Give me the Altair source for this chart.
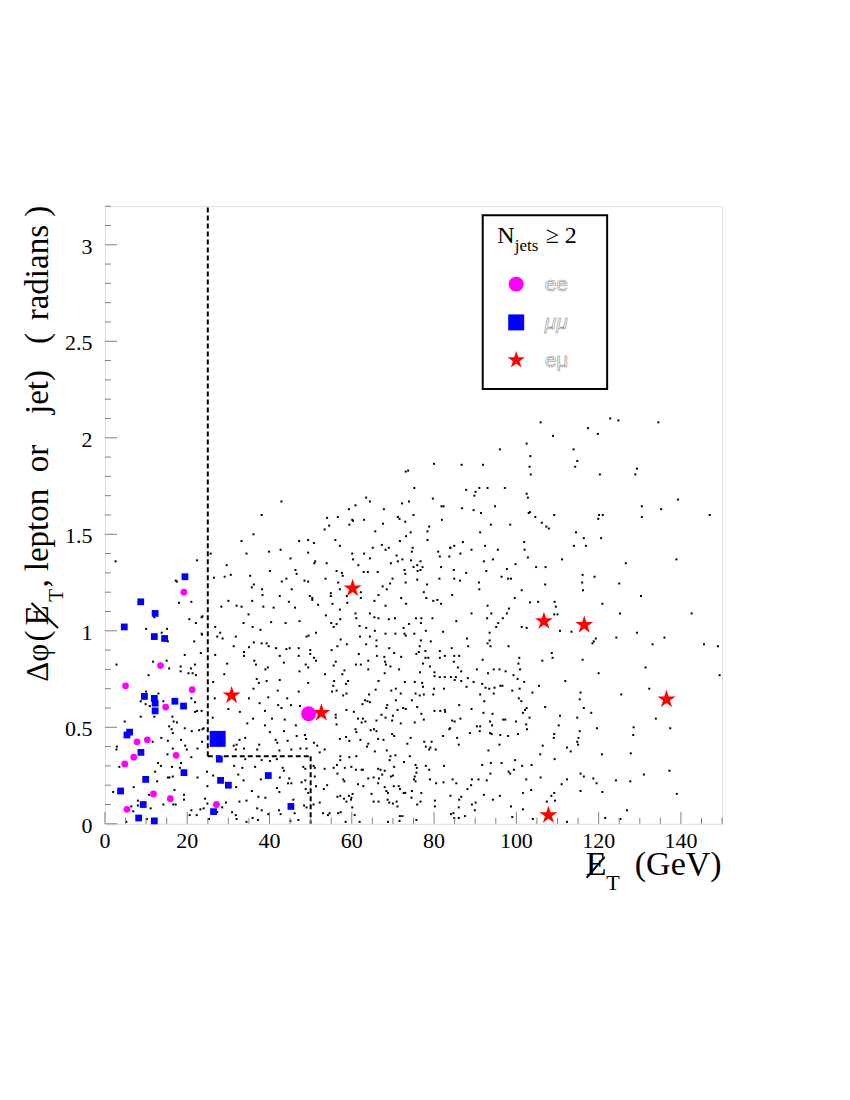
import altair as alt
import pandas as pd

# ---------------- data ----------------
# background (simulated) events, (MET, dphi) pairs, by picture region
BG_A = [(105.9,2.08),(122.8,2.10),(124.8,2.09),(134.5,2.08),(117.4,2.05),(119.8,2.02),(108.9,2.01),(102.5,1.97),(96.0,1.94),(113.9,1.94),(103.4,1.905),(114.8,1.88),(86.7,1.86),(91.9,1.86),(103.2,1.85),(114.3,1.85),(129.3,1.84),(103.5,1.81),(120.3,1.81),(128.9,1.81),(87.8,1.73),(91.0,1.74),(93.0,1.74),(97.2,1.74),(90.1,1.72),(89.8,1.70),(102.5,1.71),(102.8,1.69),(139.3,1.68),(130.5,1.645),(135.2,1.63),(86.8,1.635),(89.6,1.625),(91.4,1.61),(94.8,1.645),(103.0,1.61),(103.3,1.615),(104.6,1.59),(109.2,1.60),(120.1,1.60),(121.0,1.60),(119.9,1.58),(130.5,1.59),(147.0,1.60),(93.8,1.55),(98.5,1.55),(106.2,1.56),(107.3,1.54),(107.9,1.53),(91.2,1.51),(114.5,1.51),(116.4,1.48),(120.6,1.48),(87.0,1.46),(84.9,1.44),(84.0,1.43),(92.4,1.44),(101.9,1.46),(114.0,1.44),(116.9,1.44),(89.1,1.42),(95.5,1.42),(102.0,1.42),(86.4,1.40),(92.1,1.36),(94.3,1.37),(102.8,1.38),(111.1,1.37),(126.6,1.35),(138.9,1.37),(99.8,1.345),(97.7,1.32),(104.8,1.33),(107.1,1.33),(84.8,1.315),(87.8,1.30),(92.7,1.31),(116.1,1.29),(119.0,1.28),(96.4,1.28),(98.0,1.27),(98.7,1.27),(84.9,1.27),(86.3,1.26),(90.9,1.25),(116.0,1.25),(125.0,1.245),(107.0,1.24),(91.0,1.215),(101.3,1.21),(116.2,1.21),(84.4,1.185),(99.6,1.17),(130.3,1.18)]
BG_B = [(103.3,1.147),(105.3,1.15),(109.3,1.15),(109.6,1.125),(120.9,1.14),(93.0,1.13),(98.2,1.115),(89.1,1.09),(93.9,1.09),(97.7,1.09),(109.2,1.085),(110.0,1.085),(125.2,1.09),(142.6,1.09),(92.9,1.065),(96.7,1.065),(85.4,1.05),(95.6,1.04),(95.1,1.02),(101.3,1.02),(102.5,1.015),(110.6,1.00),(113.4,0.995),(129.3,0.99),(93.5,0.99),(88.0,0.96),(93.5,0.95),(93.0,0.935),(93.7,0.92),(98.1,0.92),(119.3,0.96),(118.8,0.945),(118.5,0.935),(124.3,0.965),(136.0,0.965),(133.1,0.93),(145.6,0.93),(149.0,0.92),(88.3,0.92),(84.3,0.91),(84.9,0.87),(86.1,0.87),(108.6,0.885),(108.8,0.86),(106.3,0.845),(100.7,0.86),(100.5,0.83),(91.8,0.85),(116.1,0.85),(84.8,0.84),(85.8,0.81),(90.4,0.80),(94.5,0.80),(95.9,0.80),(97.4,0.79),(99.3,0.77),(100.9,0.80),(86.6,0.79),(93.1,0.78),(131.4,0.81),(149.4,0.77),(120.0,0.78),(84.1,0.76),(85.3,0.76),(85.0,0.745),(86.6,0.74),(88.2,0.755),(89.6,0.735),(100.3,0.75),(101.9,0.735),(111.9,0.74),(87.9,0.71),(91.7,0.725),(92.5,0.705),(93.4,0.70),(94.7,0.705),(96.1,0.715),(96.6,0.715),(99.0,0.69),(100.8,0.70),(105.5,0.715),(103.9,0.68),(94.5,0.675),(91.2,0.67),(115.6,0.68),(115.4,0.645),(125.5,0.67),(132.3,0.70),(100.6,0.65),(101.2,0.635),(92.2,0.635),(86.1,0.615),(107.0,0.605),(89.1,0.595),(102.5,0.60),(102.1,0.59),(101.6,0.575),(116.4,0.60),(92.0,0.575),(94.2,0.57),(118.2,0.575),(110.6,0.56),(114.8,0.55),(103.2,0.55),(84.4,0.535),(85.0,0.53),(86.4,0.545),(93.6,0.53),(96.8,0.54),(97.3,0.54),(99.9,0.53),(133.9,0.545),(102.4,0.515),(102.6,0.49),(94.1,0.51),(90.4,0.505),(91.2,0.505),(110.3,0.51),(115.4,0.48),(119.6,0.495),(128.5,0.50),(128.4,0.46),(137.4,0.495),(83.9,0.495),(88.7,0.47),(91.1,0.48),(93.6,0.47),(94.0,0.465),(96.1,0.46),(98.0,0.455),(100.4,0.465),(109.2,0.465),(109.1,0.445),(115.1,0.445),(114.8,0.425),(115.0,0.41),(85.6,0.445),(86.0,0.41),(95.9,0.41),(106.4,0.405),(112.3,0.395),(113.2,0.375),(93.2,0.38),(105.8,0.36),(120.8,0.36),(127.8,0.365),(109.3,0.335),(99.7,0.33),(93.8,0.315),(96.4,0.315),(91.7,0.305),(103.7,0.305),(101.4,0.30),(99.4,0.28),(98.1,0.27),(98.5,0.26),(93.7,0.26),(137.2,0.275),(115.6,0.26),(116.4,0.245),(131.0,0.255),(84.5,0.23),(85.4,0.21),(89.2,0.23),(90.8,0.23),(92.8,0.225),(102.4,0.23),(105.9,0.24),(112.3,0.23),(118.7,0.235),(119.5,0.21),(124.2,0.225),(127.7,0.22),(89.0,0.20),(88.1,0.18),(111.0,0.205),(101.6,0.16),(103.6,0.175),(115.6,0.17),(120.9,0.165),(139.0,0.155),(84.0,0.145),(86.1,0.125),(86.6,0.14),(92.1,0.15),(94.3,0.125),(96.0,0.145),(108.5,0.145),(109.2,0.16),(109.4,0.12),(107.4,0.115),(89.2,0.10),(90.1,0.11),(89.9,0.07),(98.7,0.09),(101.6,0.075),(86.0,0.085),(84.7,0.055),(84.1,0.05),(84.9,0.03),(87.5,0.04),(86.0,0.03),(99.0,0.035),(104.0,0.025),(112.3,0.01),(121.6,0.03),(125.3,0.025),(126.9,0.07)]
BG_C = [(80.0,1.865),(73.1,1.825),(73.7,1.83),(75.2,1.74),(42.9,1.67),(63.5,1.69),(64.4,1.67),(79.7,1.685),(73.9,1.67),(72.2,1.66),(81.8,1.645),(82.3,1.645),(60.9,1.65),(59.3,1.63),(67.8,1.63),(38.1,1.60),(54.0,1.585),(56.6,1.59),(60.1,1.575),(60.3,1.57),(63.0,1.575),(71.2,1.59),(71.6,1.58),(75.0,1.60),(73.0,1.565),(81.9,1.575),(67.6,1.555),(59.4,1.55),(54.5,1.545),(53.4,1.525),(78.8,1.54),(78.4,1.515),(74.3,1.51),(65.7,1.515),(73.2,1.49),(36.1,1.50),(33.2,1.465),(47.2,1.465),(49.4,1.47),(50.8,1.455),(56.0,1.47),(57.1,1.44),(71.7,1.465),(78.4,1.47),(67.3,1.445),(69.0,1.43),(68.2,1.42),(65.1,1.43),(74.8,1.43),(74.6,1.41),(83.9,1.43),(42.7,1.42),(39.9,1.41),(34.4,1.40),(49.4,1.405),(60.1,1.40),(63.0,1.40),(81.0,1.41),(81.4,1.385),(70.9,1.39),(72.3,1.37),(71.2,1.36),(83.7,1.385),(45.1,1.375),(64.4,1.375),(60.3,1.37),(74.4,1.365),(29.6,1.34),(51.1,1.36),(50.9,1.35),(53.9,1.35),(76.7,1.36),(75.9,1.34),(69.5,1.35),(61.6,1.34),(75.0,1.33),(77.2,1.33),(81.7,1.33),(40.1,1.31),(46.3,1.315),(46.6,1.295),(30.6,1.29),(35.3,1.285),(56.3,1.31),(57.6,1.30),(57.8,1.285),(62.9,1.305),(63.9,1.305),(66.3,1.305),(72.8,1.315),(73.0,1.295),(76.0,1.31),(76.7,1.315),(26.5,1.275),(29.1,1.28),(44.1,1.27),(43.0,1.255),(48.5,1.26),(49.4,1.255),(53.6,1.27),(56.7,1.25),(69.9,1.27),(69.3,1.245),(67.5,1.23),(68.5,1.215),(73.1,1.25),(75.9,1.265),(78.3,1.24),(81.3,1.27),(36.2,1.24),(35.7,1.225),(38.2,1.215),(45.4,1.215),(57.1,1.215),(38.3,1.185),(42.5,1.18),(49.8,1.18),(50.4,1.17),(54.9,1.195),(54.9,1.18),(58.8,1.18),(62.2,1.20),(62.2,1.17),(66.5,1.185),(72.0,1.17),(77.5,1.20),(78.1,1.17),(25.7,1.40)]
BG_D = [(2.6,1.36),(22.4,1.365),(17.2,1.26),(17.5,1.255),(18.0,1.145),(21.0,1.15),(12.0,1.07),(20.5,1.06),(22.1,1.04),(23.5,1.07),(10.0,1.01),(15.1,1.01),(13.8,0.99),(23.6,0.98),(21.7,0.945),(15.3,0.945),(19.4,0.875),(23.3,0.885),(2.8,0.825),(11.7,0.84),(15.0,0.845),(10.6,0.77),(18.4,0.815),(18.4,0.79),(15.6,0.805),(20.9,0.805),(21.9,0.825),(20.3,0.78),(21.3,0.78),(22.1,0.77),(10.0,0.685),(13.0,0.675),(8.7,0.635),(9.9,0.62),(10.9,0.61),(14.2,0.635),(21.0,0.65),(21.9,0.63),(22.4,0.585),(21.9,0.58),(8.7,0.555),(12.0,0.555),(16.4,0.555),(16.7,0.53),(17.5,0.525),(4.8,0.53),(15.6,0.505),(16.2,0.49),(16.5,0.47),(19.4,0.495),(21.1,0.48),(22.9,0.485),(24.0,0.495),(13.7,0.445),(15.3,0.43),(18.5,0.435),(19.5,0.405),(19.9,0.385),(22.5,0.39),(23.6,0.425),(2.9,0.40),(2.8,0.385),(16.5,0.39),(11.6,0.425),(15.2,0.36),(21.0,0.345),(3.5,0.295),(12.9,0.315),(13.6,0.30),(16.3,0.295),(18.5,0.315),(18.2,0.29),(12.2,0.27),(15.3,0.24),(15.7,0.24),(16.5,0.245),(12.7,0.22),(22.5,0.24),(7.0,0.19),(2.0,0.165),(16.9,0.175),(10.7,0.15),(19.2,0.15),(19.2,0.125),(8.0,0.12),(8.0,0.095),(14.2,0.10),(16.6,0.10),(17.2,0.10),(6.4,0.09),(11.1,0.08),(21.0,0.07),(23.2,0.075),(24.0,0.08),(6.9,0.065),(20.6,0.045),(22.3,0.045),(10.2,0.025),(5.2,0.01)]
BG_E = [(30.0,1.155),(35.8,1.155),(44.7,1.15),(50.4,1.16),(51.8,1.135),(28.3,1.125),(32.0,1.13),(33.2,1.125),(38.5,1.125),(41.0,1.12),(46.2,1.12),(53.7,1.08),(23.7,1.075),(34.9,1.085),(33.7,1.04),(35.9,1.02),(37.8,1.005),(40.4,1.045),(43.9,1.04),(47.3,1.05),(26.8,1.02),(28.0,0.99),(27.3,0.97),(28.6,0.96),(31.8,0.97),(23.5,0.985),(49.0,0.97),(49.5,0.975),(51.3,0.99),(36.2,0.94),(38.1,0.935),(39.3,0.935),(39.8,0.92),(31.3,0.92),(35.0,0.915),(41.6,0.91),(44.1,0.905),(44.9,0.91),(47.1,0.91),(49.9,0.90),(33.8,0.89),(33.8,0.87),(26.8,0.875),(47.1,0.87),(42.5,0.87),(49.9,0.88),(50.8,0.86),(51.3,0.845),(36.3,0.845),(36.7,0.825),(29.7,0.83),(43.5,0.835),(48.8,0.825),(49.4,0.81),(39.6,0.81),(39.0,0.80),(47.3,0.79),(29.0,0.775),(53.5,0.775),(26.3,0.735),(36.9,0.75),(37.4,0.73),(39.3,0.74),(42.5,0.745),(49.4,0.73),(47.1,0.685),(42.0,0.69),(36.1,0.70),(26.7,0.65),(35.0,0.65),(37.6,0.625),(39.7,0.655),(42.1,0.615),(42.9,0.60),(44.3,0.65),(45.2,0.615),(47.4,0.61),(38.9,0.585),(30.0,0.595),(32.8,0.58),(23.5,0.585),(26.2,0.55),(36.0,0.545),(40.6,0.545),(43.7,0.54),(34.6,0.52),(38.9,0.51),(46.4,0.51),(23.7,0.49),(40.1,0.475),(43.5,0.48),(48.6,0.46),(48.9,0.44),(46.6,0.455),(34.1,0.445),(32.7,0.435),(41.5,0.435),(41.9,0.42),(44.4,0.43),(32.0,0.41),(31.3,0.405),(37.5,0.41),(33.8,0.39),(31.8,0.385),(37.0,0.385),(42.4,0.38),(45.3,0.385),(47.5,0.39),(49.0,0.39),(50.8,0.42),(51.6,0.405),(52.2,0.37),(53.4,0.385),(34.1,0.335),(38.1,0.33),(40.1,0.325),(41.8,0.335),(31.4,0.30),(33.4,0.29),(36.5,0.295),(43.2,0.29),(43.5,0.275),(48.2,0.295),(48.7,0.285),(50.7,0.30),(51.0,0.29),(53.4,0.285),(24.8,0.27),(32.4,0.255),(44.8,0.235),(44.5,0.21),(45.3,0.21),(42.5,0.24),(37.9,0.23),(33.7,0.225),(26.3,0.25),(24.9,0.195),(47.8,0.215),(48.7,0.225),(48.8,0.18),(49.4,0.16),(51.0,0.245),(51.3,0.195),(53.2,0.18),(54.0,0.20),(31.9,0.19),(35.7,0.17),(41.8,0.185),(42.4,0.165),(37.3,0.14),(39.0,0.135),(34.4,0.12),(32.7,0.115),(24.3,0.13),(24.9,0.105),(29.4,0.11),(45.8,0.125),(48.4,0.095),(49.0,0.085),(50.7,0.10),(52.2,0.11),(28.5,0.085),(27.3,0.06),(30.9,0.06),(31.8,0.045),(37.0,0.08),(38.1,0.07),(42.3,0.07),(42.7,0.05),(39.7,0.05),(46.1,0.055),(35.9,0.03),(37.2,0.02),(53.0,0.055),(54.2,0.045),(25.3,0.025),(32.0,0.025),(45.1,0.015),(47.0,0.02),(34.4,0.01)]
BG_F = [(55.3,1.14),(57.1,1.11),(58.9,1.145),(65.5,1.155),(68.2,1.13),(73.2,1.14),(79.8,1.155),(80.8,1.16),(81.7,1.14),(55.0,1.04),(55.6,1.02),(57.2,1.06),(56.3,1.035),(60.9,1.09),(61.1,1.065),(61.9,1.025),(64.4,1.09),(65.5,1.07),(66.5,1.065),(69.0,1.06),(70.5,1.065),(75.6,1.065),(76.9,1.065),(76.8,1.04),(79.6,1.065),(72.6,1.015),(73.9,1.035),(78.0,1.00),(82.2,0.995),(63.5,1.015),(65.6,1.00),(64.4,0.97),(62.0,0.97),(72.8,0.985),(73.1,0.975),(68.2,0.985),(70.6,0.985),(75.2,0.985),(57.3,0.955),(56.5,0.92),(58.8,0.93),(66.0,0.95),(76.8,0.95),(79.2,0.945),(55.1,0.90),(63.5,0.93),(66.0,0.92),(69.1,0.91),(76.5,0.92),(76.3,0.89),(77.9,0.895),(81.4,0.895),(70.3,0.885),(75.7,0.88),(61.7,0.88),(72.0,0.865),(66.1,0.87),(67.9,0.865),(77.9,0.86),(78.6,0.86),(81.4,0.86),(82.6,0.87),(56.1,0.84),(55.6,0.82),(61.0,0.825),(62.2,0.825),(64.0,0.845),(64.0,0.80),(68.1,0.84),(68.3,0.825),(69.4,0.815),(71.5,0.80),(77.3,0.83),(79.0,0.815),(80.1,0.785),(80.1,0.765),(81.4,0.76),(82.6,0.76),(58.2,0.795),(57.7,0.775),(68.0,0.78),(76.6,0.785),(55.7,0.74),(59.1,0.74),(58.6,0.725),(66.5,0.74),(72.9,0.735),(75.3,0.735),(77.1,0.73),(77.3,0.71),(80.0,0.70),(82.4,0.70),(55.5,0.715),(55.2,0.685),(56.3,0.69),(70.7,0.70),(69.6,0.69),(65.8,0.695),(57.9,0.665),(58.7,0.675),(64.2,0.67),(71.9,0.675),(75.5,0.675),(76.5,0.665),(77.5,0.67),(79.8,0.67),(63.2,0.64),(63.8,0.635),(64.4,0.63),(70.7,0.64),(74.6,0.64),(68.6,0.615),(68.4,0.60),(72.5,0.60),(73.1,0.595),(75.9,0.605),(62.6,0.62),(58.7,0.59),(71.1,0.59),(80.1,0.585),(81.5,0.585),(82.6,0.59),(82.7,0.58),(60.5,0.58),(76.9,0.57),(56.1,0.565),(56.1,0.55),(67.2,0.565),(68.2,0.55),(70.0,0.56),(69.8,0.535),(61.5,0.545),(62.7,0.545),(62.4,0.525),(63.3,0.53),(66.0,0.535),(71.9,0.52),(75.3,0.525),(77.5,0.54),(56.3,0.515),(60.9,0.49),(61.1,0.475),(64.6,0.485),(65.4,0.49),(66.0,0.48),(69.8,0.465),(70.3,0.455),(74.3,0.445),(82.2,0.455),(83.7,0.49),(57.1,0.44),(58.6,0.45),(59.4,0.43),(62.1,0.435),(66.4,0.44),(67.7,0.435),(64.0,0.415),(63.7,0.40),(73.5,0.415),(77.6,0.425),(79.4,0.425),(78.0,0.40),(78.8,0.385),(79.1,0.395),(80.4,0.385),(68.5,0.38),(65.6,0.375),(74.1,0.35),(57.2,0.35),(57.2,0.33),(59.4,0.345),(61.1,0.35),(69.4,0.35),(69.2,0.33),(70.6,0.355),(56.4,0.305),(55.6,0.29),(58.3,0.29),(59.9,0.295),(61.0,0.28),(62.4,0.28),(62.7,0.28),(66.4,0.285),(67.0,0.28),(68.0,0.275),(72.7,0.32),(70.3,0.295),(75.5,0.305),(75.8,0.29),(78.0,0.30),(78.8,0.28),(82.4,0.30),(56.5,0.26),(75.7,0.265),(67.4,0.255),(66.6,0.235),(65.3,0.24),(64.0,0.235),(69.5,0.245),(70.0,0.25),(57.9,0.23),(58.2,0.22),(75.3,0.245),(75.1,0.23),(75.5,0.22),(79.0,0.23),(80.5,0.21),(82.3,0.215),(61.5,0.205),(62.8,0.195),(66.4,0.21),(68.0,0.19),(70.2,0.195),(71.4,0.195),(71.7,0.18),(72.6,0.16),(73.0,0.16),(74.6,0.17),(76.9,0.16),(57.2,0.145),(56.5,0.14),(58.1,0.13),(59.3,0.145),(59.9,0.135),(58.7,0.115),(59.8,0.125),(60.2,0.155),(64.8,0.155),(68.4,0.17),(68.8,0.16),(65.3,0.115),(66.5,0.115),(68.7,0.125),(69.1,0.11),(70.0,0.105),(70.9,0.115),(71.1,0.09),(74.5,0.135),(76.7,0.115),(80.2,0.12),(80.2,0.09),(75.9,0.10),(60.1,0.085),(54.6,0.055),(56.7,0.055),(57.3,0.06),(60.7,0.045),(71.7,0.04),(72.3,0.04),(75.7,0.02),(71.6,0.015),(68.8,0.01),(61.9,0.01),(58.5,0.01)]

# ee candidates (small) and the large ee candidate
EE_X = [19.2, 13.5, 5.0, 21.2, 14.75, 7.8, 10.3, 17.3, 7.0, 4.8, 11.8, 15.9, 5.35, 27.1]
EE_Y = [1.20, 0.82, 0.715, 0.695, 0.605, 0.425, 0.435, 0.355, 0.345, 0.31, 0.155, 0.13, 0.075, 0.10]
EE_BIG_X = [49.5]
EE_BIG_Y = [0.57]
# mumu candidates
MM_X = [19.45, 8.7, 12.2, 4.7, 12.0, 14.5, 9.6, 12.0, 12.2, 12.2, 17.0, 19.1, 6.0, 5.35, 8.75, 19.2, 9.9, 3.8, 9.3, 8.2, 12.0, 27.8, 28.1, 30.0, 26.4, 39.7, 45.2]
MM_Y = [1.28, 1.15, 1.09, 1.02, 0.97, 0.96, 0.66, 0.65, 0.625, 0.585, 0.635, 0.61, 0.475, 0.46, 0.37, 0.265, 0.23, 0.17, 0.10, 0.03, 0.015, 0.335, 0.225, 0.20, 0.063, 0.25, 0.09]
MM_BIG_X = [27.4]
MM_BIG_Y = [0.44]
# e-mu candidates
EM_X = [30.8, 52.6, 60.2, 106.7, 116.5, 136.5, 107.8]
EM_Y = [0.665, 0.575, 1.22, 1.05, 1.03, 0.645, 0.045]

# selection cut (dashed) segments
CUT_X1 = [25, 25, 50]
CUT_Y1 = [0.35, 0.35, 0.35]
CUT_X2 = [25, 50, 50]
CUT_Y2 = [3.2, 0.35, 0.0]

X_LABELS = [0, 20, 40, 60, 80, 100, 120, 140]
X_TEXT = ["0", "20", "40", "60", "80", "100", "120", "140"]
Y_LABELS = [0, 0.5, 1, 1.5, 2, 2.5, 3]
Y_TEXT = ["0", "0.5", "1", "1.5", "2", "2.5", "3"]
X_MINOR = [v for v in range(0, 151, 5) if v % 20 != 0]
Y_MINOR = [round(i * 0.1, 1) for i in range(0, 33) if i % 5 != 0]

# y-axis title words, bottom-to-top, with the centre of each word along the axis (px from plot top)
YT_WORDS = ["\u0394\u03c6", "(", "E", ",", "lepton", "or", "jet)", "(", "radians", ")"]
YT_POS = [457, 430, 409.5, 377.5, 324, 252.5, 186, 132.5, 66.5, 5]
YT_SIZE = [31, 33, 33, 33, 33, 33, 33, 33, 33, 33]

# ---------------- chart ----------------
W, H = 617.5, 618
SERIF = "Liberation Serif"
GREY = "#808080"
STAR = "M0,-1L0.225,-0.309L0.951,-0.309L0.363,0.118L0.588,0.809L0,0.382L-0.588,0.809L-0.363,0.118L-0.951,-0.309L-0.225,-0.309Z"

xs = alt.Scale(domain=[0, 150], nice=False, zero=False)
ys = alt.Scale(domain=[0, 3.2], nice=False, zero=False)
X_ENC = alt.X("x:Q", scale=xs, axis=None)
Y_ENC = alt.Y("y:Q", scale=ys, axis=None)

bg = pd.DataFrame(BG_A + BG_B + BG_C + BG_D + BG_E + BG_F, columns=["x", "y"])
dots = alt.Chart(bg).mark_square(size=4, color="black", opacity=1).encode(x=X_ENC, y=Y_ENC)

cuts = pd.DataFrame({"x": CUT_X1, "y": CUT_Y1, "x2": CUT_X2, "y2": CUT_Y2})
cut_lines = alt.Chart(cuts).mark_rule(color="black", strokeWidth=2, strokeDash=[5, 3]).encode(
    x=X_ENC, y=Y_ENC, x2="x2:Q", y2="y2:Q")

def pts(xv, yv, shape, size, color):
    df = pd.DataFrame({"x": xv, "y": yv})
    return alt.Chart(df).mark_point(shape=shape, size=size, filled=True, color=color,
                                    opacity=1, strokeWidth=0).encode(x=X_ENC, y=Y_ENC)

ee = pts(EE_X, EE_Y, "circle", 46, "#ff00ff")
ee_big = pts(EE_BIG_X, EE_BIG_Y, "circle", 225, "#ff00ff")
mm = pts(MM_X, MM_Y, "square", 46, "#0000ff")
mm_big = pts(MM_BIG_X, MM_BIG_Y, "square", 256, "#0000ff")
em = pts(EM_X, EM_Y, STAR, 360, "#ff0000")

# inward ticks (ROOT style)
def xticks(vals, length):
    return alt.Chart(pd.DataFrame({"x": vals})).mark_rule(color=GREY, strokeWidth=1).encode(
        x=X_ENC, y=alt.value(H), y2=alt.value(H - length))

def yticks(vals, length):
    return alt.Chart(pd.DataFrame({"y": vals})).mark_rule(color=GREY, strokeWidth=1).encode(
        y=Y_ENC, x=alt.value(0), x2=alt.value(length))

ticks = [xticks(X_LABELS, 12), xticks(X_MINOR, 6), yticks(Y_LABELS, 12), yticks(Y_MINOR, 6)]

# tick labels drawn through the scales
xlab = alt.Chart(pd.DataFrame({"x": X_LABELS, "t": X_TEXT})).mark_text(
    font=SERIF, fontSize=22, align="center", baseline="alphabetic", color="black").encode(
    x=X_ENC, y=alt.value(H + 24), text="t:N")
ylab = alt.Chart(pd.DataFrame({"y": Y_LABELS, "t": Y_TEXT})).mark_text(
    font=SERIF, fontSize=22, align="right", baseline="middle", dy=2, color="black").encode(
    y=Y_ENC, x=alt.value(-12.5), text="t:N")

one = pd.DataFrame({"a": [0]})

def txt(s, x, y, size, font=SERIF, align="left", baseline="alphabetic", angle=0, **kw):
    return alt.Chart(one).mark_text(text=s, font=font, fontSize=size, align=align, baseline=baseline,
                                    angle=angle, **kw).encode(x=alt.value(x), y=alt.value(y))

def slash(x1, y1, x2, y2):
    return alt.Chart(one).mark_rule(color="black", strokeWidth=2).encode(
        x=alt.value(x1), y=alt.value(y1), x2=alt.value(x2), y2=alt.value(y2))

# legend box
box = alt.Chart(one).mark_rect(fill="white", stroke="black", strokeWidth=2).encode(
    x=alt.value(378), x2=alt.value(502.5), y=alt.value(9), y2=alt.value(183))

def leg_pt(y, shape, size, color):
    return alt.Chart(one).mark_point(shape=shape, size=size, filled=True, color=color, opacity=1,
                                     strokeWidth=0).encode(x=alt.value(411.5), y=alt.value(y))

outline = dict(fill="white", stroke="#8a8a8a", strokeWidth=0.6)
legend = [
    box,
    txt("N", 392.5, 37, 24, color="black"),
    txt("jets", 410, 45, 17, color="black"),
    txt("\u2265 2", 441, 37, 24, color="black"),
    leg_pt(78, "circle", 225, "#ff00ff"),
    leg_pt(116.3, "square", 256, "#0000ff"),
    leg_pt(154, STAR, 330, "#ff0000"),
    txt("ee", 440, 85, 21, font="Liberation Sans", **outline),
    txt("\u03bc\u03bc", 440, 123, 21, font="Liberation Sans", fontStyle="italic", **outline),
    txt("e\u03bc", 440, 161, 21, font="Liberation Sans", **outline),
]

titles = [
    txt("(GeV)", 617, 669, 34, align="right", color="black"),
    txt("E", 481, 669, 34, color="black"),
    slash(482, 672, 500, 651),
    txt("T", 501.5, 684, 22, color="black"),
    txt("T", -42.3, 389.5, 21, align="center", angle=270, color="black"),
    slash(-47, 422, -73.5, 397),
]
for w, p, s in zip(YT_WORDS, YT_POS, YT_SIZE):
    titles.append(txt(w, -56.8, p, s, align="center", angle=270, color="black"))

chart = alt.layer(dots, cut_lines, *ticks, xlab, ylab, ee, mm, em, ee_big, mm_big, *legend, *titles).properties(
    width=W, height=H,
    autosize=alt.AutoSizeParams(type="none"),
    padding={"left": 97, "top": 198, "right": 120, "bottom": 150},
).configure_view(stroke=GREY, strokeWidth=1).configure(background="white", font=SERIF)

chart.save("out.html", embed_options={"renderer": "svg", "actions": False})
